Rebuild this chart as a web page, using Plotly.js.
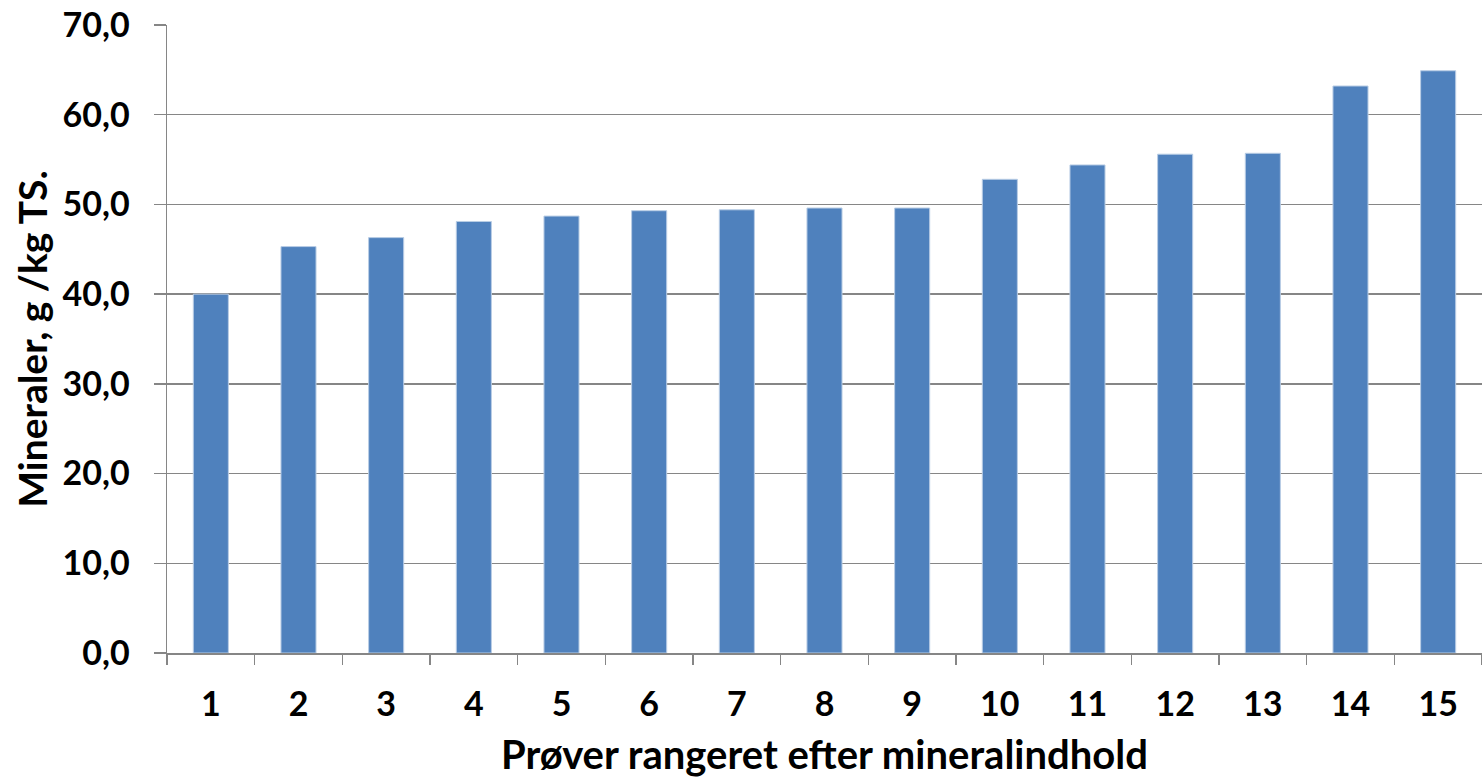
<!DOCTYPE html>
<html>
<head>
<meta charset="utf-8">
<script src="https://cdn.plot.ly/plotly-3.0.1.min.js"></script>
<style>html,body{margin:0;padding:0;background:#fff;}#chart{width:1482px;height:778px;}</style>
</head>
<body>
<div id="chart"></div>
<script>
const categories = ["1","2","3","4","5","6","7","8","9","10","11","12","13","14","15"];
const values = [40.0, 45.3, 46.3, 48.1, 48.7, 49.3, 49.4, 49.6, 49.6, 52.8, 54.4, 55.6, 55.7, 63.2, 64.9];
const xTitle = "Prøver rangeret efter mineralindhold";
const yTitle = "Mineraler, g /kg TS.";

const fontFam = "Lato, 'Open Sans', sans-serif";
const tickFont = {family: fontFam, size: 34, color: '#000', weight: 'bold'};
const xTitleFont = {family: fontFam, size: 40, color: '#000', weight: 'bold'};
const yTitleFont = {family: fontFam, size: 39, color: '#000', weight: 'bold'};
const trace = {
  type: 'bar',
  x: categories,
  y: values,
  marker: {color: '#4F81BD', line: {color: '#B9CDE5', width: 1}},
  hoverinfo: 'x+y'
};
const layout = {
  width: 1482, height: 778,
  margin: {l: 167, r: 0, t: 25, b: 125},
  paper_bgcolor: '#fff', plot_bgcolor: '#fff',
  separators: ', ',
  bargap: 0.6,
  showlegend: false,
  font: tickFont,
  xaxis: {
    type: 'category',
    tickson: 'boundaries',
    ticks: 'outside', ticklen: 10, tickwidth: 1.5, tickcolor: '#868686',
    showline: true, linecolor: '#868686', linewidth: 1.5,
    showgrid: false, zeroline: false,
    tickfont: tickFont,
    ticklabelstandoff: 21,
    title: {text: xTitle, font: xTitleFont, standoff: 22},
    automargin: false
  },
  yaxis: {
    range: [0, 70], dtick: 10, tick0: 0,
    tickformat: '.1f',
    ticks: 'outside', ticklen: 12, tickwidth: 1.5, tickcolor: '#868686',
    showline: true, linecolor: '#868686', linewidth: 1.5,
    showgrid: true, gridcolor: '#868686', gridwidth: 1.5,
    zeroline: false,
    tickfont: tickFont,
    ticklabelstandoff: 17,
    title: {text: yTitle, font: yTitleFont, standoff: 3},
    automargin: false
  }
};
Plotly.newPlot('chart', [trace], layout, {displayModeBar: false, staticPlot: true});
</script>
</body>
</html>
